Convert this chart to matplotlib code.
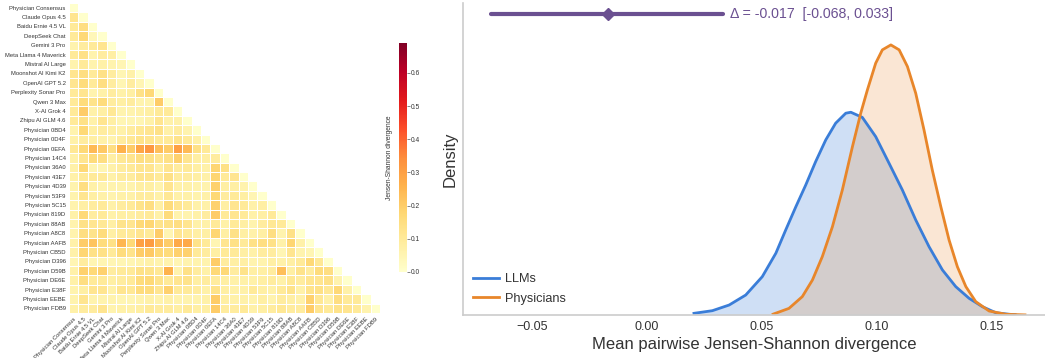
import numpy as np
import matplotlib
matplotlib.use("Agg")
import matplotlib.pyplot as plt

plt.rcParams['font.family'] = ['Liberation Sans', 'DejaVu Sans']

labels = ["Physician Consensus", "Claude Opus 4.5", "Baidu Ernie 4.5 VL", "DeepSeek Chat",
          "Gemini 3 Pro", "Meta Llama 4 Maverick", "Mistral AI Large", "Moonshot AI Kimi K2",
          "OpenAI GPT 5.2", "Perplexity Sonar Pro", "Qwen 3 Max", "X-AI Grok 4",
          "Zhipu AI GLM 4.6", "Physician 0BD4", "Physician 0D4F", "Physician 0EFA",
          "Physician 14C4", "Physician 36A0", "Physician 43E7", "Physician 4D39",
          "Physician 53F9", "Physician 5C15", "Physician 819D", "Physician 88AB",
          "Physician A8C8", "Physician AAFB", "Physician CB5D", "Physician D396",
          "Physician D59B", "Physician DE6E", "Physician E38F", "Physician EEBE",
          "Physician FDB9"]

# lower triangle of the JSD matrix (row i has i+1 values, diagonal last)
jsd_rows = [
    [0],
    [0.12, 0],
    [0.10, 0.15, 0],
    [0.10, 0.17, 0.04, 0],
    [0.06, 0.09, 0.10, 0.12, 0],
    [0.10, 0.14, 0.06, 0.09, 0.08, 0],
    [0.06, 0.10, 0.06, 0.07, 0.06, 0.05, 0],
    [0.12, 0.15, 0.10, 0.14, 0.09, 0.05, 0.07, 0],
    [0.12, 0.16, 0.10, 0.15, 0.09, 0.05, 0.09, 0.05, 0],
    [0.10, 0.12, 0.06, 0.07, 0.09, 0.07, 0.08, 0.14, 0.17, 0],
    [0.10, 0.16, 0.13, 0.16, 0.09, 0.08, 0.09, 0.06, 0.06, 0.20, 0],
    [0.10, 0.20, 0.07, 0.08, 0.11, 0.06, 0.06, 0.07, 0.08, 0.10, 0.10, 0],
    [0.10, 0.14, 0.07, 0.12, 0.08, 0.05, 0.05, 0.05, 0.07, 0.12, 0.07, 0.07, 0],
    [0.06, 0.17, 0.08, 0.09, 0.08, 0.07, 0.09, 0.11, 0.12, 0.14, 0.07, 0.09, 0.06, 0],
    [0.07, 0.09, 0.08, 0.07, 0.06, 0.09, 0.11, 0.13, 0.12, 0.10, 0.10, 0.13, 0.10, 0.07, 0],
    [0.11, 0.17, 0.24, 0.21, 0.15, 0.26, 0.20, 0.29, 0.32, 0.23, 0.20, 0.30, 0.24, 0.14, 0.10, 0],
    [0.07, 0.12, 0.16, 0.15, 0.08, 0.11, 0.12, 0.15, 0.14, 0.12, 0.14, 0.19, 0.12, 0.08, 0.08, 0.09, 0],
    [0.07, 0.17, 0.05, 0.05, 0.07, 0.09, 0.10, 0.12, 0.12, 0.08, 0.12, 0.09, 0.10, 0.08, 0.07, 0.18, 0.14, 0],
    [0.07, 0.10, 0.10, 0.10, 0.07, 0.09, 0.09, 0.12, 0.12, 0.10, 0.14, 0.09, 0.09, 0.08, 0.07, 0.18, 0.10, 0.12, 0],
    [0.06, 0.15, 0.07, 0.06, 0.06, 0.06, 0.06, 0.08, 0.08, 0.06, 0.12, 0.07, 0.07, 0.06, 0.06, 0.19, 0.08, 0.08,
     0.06, 0],
    [0.06, 0.12, 0.08, 0.07, 0.06, 0.07, 0.07, 0.09, 0.09, 0.07, 0.11, 0.07, 0.07, 0.06, 0.07, 0.17, 0.09, 0.10,
     0.08, 0.05, 0],
    [0.06, 0.08, 0.09, 0.10, 0.07, 0.09, 0.10, 0.13, 0.15, 0.08, 0.16, 0.12, 0.10, 0.07, 0.07, 0.19, 0.08, 0.12,
     0.10, 0.07, 0.08, 0],
    [0.07, 0.17, 0.09, 0.10, 0.07, 0.08, 0.08, 0.09, 0.10, 0.07, 0.16, 0.06, 0.06, 0.07, 0.09, 0.20, 0.10, 0.12,
     0.10, 0.07, 0.08, 0.10, 0],
    [0.06, 0.14, 0.12, 0.11, 0.08, 0.13, 0.12, 0.17, 0.18, 0.13, 0.14, 0.15, 0.12, 0.07, 0.07, 0.10, 0.07, 0.10,
     0.08, 0.06, 0.09, 0.11, 0.10, 0],
    [0.06, 0.15, 0.13, 0.16, 0.08, 0.10, 0.10, 0.12, 0.10, 0.20, 0.05, 0.12, 0.10, 0.08, 0.08, 0.18, 0.08, 0.14,
     0.08, 0.07, 0.08, 0.15, 0.06, 0.14, 0],
    [0.07, 0.20, 0.22, 0.16, 0.14, 0.25, 0.17, 0.30, 0.31, 0.24, 0.20, 0.28, 0.28, 0.13, 0.10, 0.05, 0.12, 0.14,
     0.10, 0.14, 0.15, 0.14, 0.07, 0.18, 0.07, 0],
    [0.07, 0.18, 0.14, 0.14, 0.10, 0.16, 0.13, 0.20, 0.21, 0.17, 0.16, 0.19, 0.19, 0.10, 0.09, 0.08, 0.10, 0.10,
     0.08, 0.07, 0.09, 0.09, 0.05, 0.12, 0.06, 0.05, 0],
    [0.05, 0.09, 0.05, 0.05, 0.05, 0.05, 0.05, 0.06, 0.07, 0.06, 0.06, 0.05, 0.06, 0.06, 0.06, 0.20, 0.09, 0.08,
     0.08, 0.06, 0.06, 0.08, 0.07, 0.08, 0.10, 0.17, 0.11, 0],
    [0.07, 0.19, 0.17, 0.19, 0.09, 0.10, 0.10, 0.14, 0.13, 0.11, 0.26, 0.06, 0.14, 0.09, 0.07, 0.17, 0.17, 0.09,
     0.13, 0.08, 0.08, 0.09, 0.23, 0.08, 0.13, 0.09, 0.16, 0.15, 0],
    [0.07, 0.15, 0.10, 0.10, 0.08, 0.09, 0.10, 0.16, 0.17, 0.13, 0.10, 0.12, 0.13, 0.08, 0.09, 0.09, 0.08, 0.07,
     0.07, 0.07, 0.08, 0.09, 0.07, 0.11, 0.09, 0.12, 0.12, 0.14, 0.06, 0],
    [0.06, 0.08, 0.12, 0.12, 0.07, 0.12, 0.11, 0.16, 0.16, 0.12, 0.19, 0.10, 0.10, 0.09, 0.07, 0.13, 0.08, 0.07,
     0.07, 0.10, 0.08, 0.07, 0.10, 0.13, 0.07, 0.13, 0.14, 0.11, 0.17, 0.07, 0],
    [0.06, 0.12, 0.06, 0.06, 0.06, 0.05, 0.05, 0.06, 0.07, 0.06, 0.07, 0.06, 0.06, 0.06, 0.07, 0.20, 0.08, 0.07,
     0.07, 0.06, 0.08, 0.06, 0.09, 0.08, 0.07, 0.19, 0.11, 0.07, 0.15, 0.10, 0.10, 0],
    [0.07, 0.09, 0.09, 0.12, 0.06, 0.07, 0.07, 0.08, 0.10, 0.09, 0.09, 0.08, 0.10, 0.08, 0.08, 0.20, 0.09, 0.09,
     0.10, 0.07, 0.08, 0.09, 0.11, 0.09, 0.09, 0.20, 0.12, 0.10, 0.13, 0.12, 0.10, 0.06, 0],
]

# density curves
llm_x = [0.0204, 0.0284, 0.0357, 0.0429, 0.0501, 0.0560, 0.0603, 0.0647, 0.0690, 0.0733, 0.0777,
         0.0820, 0.0864, 0.0886, 0.0936, 0.0994, 0.1052, 0.1110, 0.1168, 0.1226, 0.1284, 0.1342,
         0.1400, 0.1458, 0.1516, 0.1574, 0.1600]
llm_y = [0.16, 0.41, 0.95, 1.90, 3.65, 5.88, 8.10, 10.31, 12.38, 14.60, 16.67,
         18.26, 19.21, 19.30, 18.81, 16.98, 14.45, 11.90, 9.05, 6.50, 4.29, 2.70,
         1.59, 0.79, 0.22, 0.07, 0.03]
phys_x = [0.0548, 0.0617, 0.0675, 0.0719, 0.0762, 0.0806, 0.0849, 0.0893, 0.0929, 0.0958, 0.0994,
          0.1023, 0.1060, 0.1096, 0.1132, 0.1168, 0.1204, 0.1240, 0.1277, 0.1313, 0.1349, 0.1386,
          0.1429, 0.1487, 0.1560, 0.1643]
phys_y = [0.08, 0.63, 1.75, 3.33, 5.56, 8.41, 11.90, 16.03, 19.21, 21.43, 23.97,
          25.24, 25.71, 25.24, 23.65, 21.11, 17.62, 13.81, 10.32, 7.14, 4.60, 2.70,
          1.27, 0.38, 0.07, 0.01]

delta = -0.017
delta_lo, delta_hi = -0.068, 0.033

n = len(labels)
mat = np.full((n, n), np.nan)
for i, row in enumerate(jsd_rows):
    mat[i, :len(row)] = row
mat = np.ma.masked_invalid(mat)

W, H = 1045, 358
fig = plt.figure(figsize=(W / 100, H / 100), dpi=100)

# --- heatmap ---
ax1 = fig.add_axes([69 / W, 1 - 313 / H, 311 / W, 310 / H])
mesh = ax1.pcolormesh(mat, cmap='YlOrRd', vmin=0, vmax=0.69, edgecolors='white', linewidth=0.5)
ax1.set_xlim(0, n)
ax1.set_ylim(n, 0)
ax1.set_xticks(np.arange(n) + 0.5)
ax1.set_yticks(np.arange(n) + 0.5)
ax1.set_xticklabels(labels, rotation=45, ha='right', rotation_mode='anchor', fontsize=4.2, color='#333333')
ax1.set_yticklabels(labels, fontsize=4.2, color='#333333')
ax1.tick_params(length=0, pad=2.5)
for s in ax1.spines.values():
    s.set_visible(False)

cax = fig.add_axes([399 / W, 1 - 272 / H, 8 / W, 229 / H])
cb = fig.colorbar(mesh, cax=cax)
cb.outline.set_visible(False)
cb.ax.tick_params(labelsize=4.8, length=2, width=0.5, color='#555555', labelcolor='#333333', pad=1)
cb.set_label('Jensen-Shannon divergence', fontsize=4.8, color='#333333')
cb.ax.yaxis.set_label_position('left')

# --- KDE panel ---
ax2 = fig.add_axes([463 / W, 1 - 315 / H, (W - 463) / W, 312 / H])
ax2.fill_between(llm_x, llm_y, color='#3a7dd8', alpha=0.24, linewidth=0)
ax2.plot(llm_x, llm_y, color='#3a7dd8', linewidth=2, label='LLMs')
ax2.fill_between(phys_x, phys_y, color='#e8862a', alpha=0.2, linewidth=0)
ax2.plot(phys_x, phys_y, color='#e8862a', linewidth=2, label='Physicians')

ax2.set_xlim(-0.080, 0.173)
ax2.set_ylim(0, 29.7)
yline = 28.7
purple = '#6b5091'
ax2.plot([delta_lo, delta_hi], [yline, yline], color=purple, linewidth=3, solid_capstyle='round')
ax2.plot([delta], [yline], marker='D', color=purple, markersize=6)
ax2.text(delta_hi + 0.003, yline, f'Δ = {delta:.3f}  [{delta_lo:.3f}, {delta_hi:.3f}]',
         color=purple, fontsize=10.2, va='center', ha='left')

ax2.set_xticks([-0.05, 0.0, 0.05, 0.10, 0.15])
ax2.set_xticklabels(['−0.05', '0.00', '0.05', '0.10', '0.15'])
ax2.set_yticks([])
ax2.tick_params(axis='x', labelsize=9, length=0, pad=4.5, labelcolor='#333333')
ax2.set_xlabel('Mean pairwise Jensen-Shannon divergence', fontsize=12, color='#333333', labelpad=3)
ax2.set_ylabel('Density', fontsize=12, color='#333333')
for side in ['top', 'right']:
    ax2.spines[side].set_visible(False)
for side in ['left', 'bottom']:
    ax2.spines[side].set_color('#cccccc')
    ax2.spines[side].set_linewidth(1.2)
ax2.legend(loc='lower left', frameon=False, fontsize=9.2, handlelength=2.0, handletextpad=0.5,
           borderaxespad=0.4, labelspacing=0.6, labelcolor='#333333')

plt.savefig('out.png', dpi=100)
